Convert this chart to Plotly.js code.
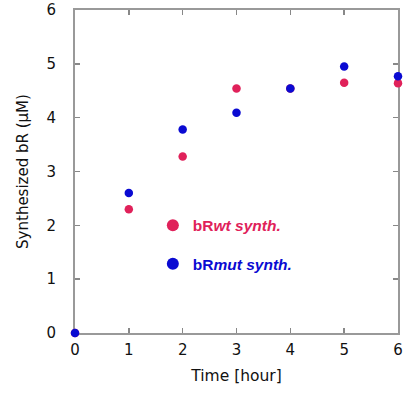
<!DOCTYPE html>
<html>
<head>
<meta charset="utf-8">
<script src="https://cdn.plot.ly/plotly-3.0.1.min.js"></script>
<style>html,body{margin:0;padding:0;background:#fff;}#chart{width:404px;height:394px;}</style>
</head>
<body>
<div id="chart"></div>
<script>
var timeHours = [0, 1, 2, 3, 4, 5, 6];
var wtSynth = [0, 2.30, 3.28, 4.54, 4.54, 4.65, 4.64];
var mutSynth = [0, 2.60, 3.78, 4.09, 4.54, 4.95, 4.77];
var tickVals = [0, 1, 2, 3, 4, 5, 6];
var tickText = ['0', '1', '2', '3', '4', '5', '6'];

var RED = '#e0215a';
var BLUE = '#0a0ad2';
var FONT = 'DejaVu Sans, Liberation Sans, Arial, sans-serif';

var traces = [
  {
    x: timeHours, y: wtSynth, type: 'scatter', mode: 'markers',
    name: '<b><span style="color:' + RED + '">bR<i>wt synth.</i></span></b>',
    marker: {color: RED, size: 8.5},
    cliponaxis: false, legend: 'legend'
  },
  {
    x: timeHours, y: mutSynth, type: 'scatter', mode: 'markers',
    name: '<b><span style="color:' + BLUE + '">bR<i>mut synth.</i></span></b>',
    marker: {color: BLUE, size: 8.5},
    cliponaxis: false, legend: 'legend2'
  }
];

var axisCommon = {
  range: [0, 6],
  tickvals: tickVals,
  ticktext: tickText,
  ticks: 'inside',
  ticklen: 5,
  tickwidth: 1.5,
  tickcolor: '#888',
  showline: true,
  linecolor: '#999',
  linewidth: 2,
  mirror: 'ticks',
  showgrid: false,
  zeroline: false,
  layer: 'below traces',
  fixedrange: true,
  tickfont: {family: FONT, size: 15, color: '#111'}
};

var legendCommon = {
  font: {family: 'Liberation Sans, Arial, sans-serif', size: 15.5},
  bgcolor: 'rgba(0,0,0,0)',
  borderwidth: 0,
  itemsizing: 'constant',
  xanchor: 'left',
  yanchor: 'middle'
};

var layout = {
  width: 404,
  height: 394,
  margin: {l: 75, r: 6, t: 10, b: 61},
  paper_bgcolor: '#fff',
  plot_bgcolor: '#fff',
  showlegend: true,
  xaxis: Object.assign({}, axisCommon, {
    ticklabelstandoff: 2,
    title: {text: 'Time [hour]', standoff: 12,
      font: {family: FONT, size: 15.5, color: '#111'}}
  }),
  yaxis: Object.assign({}, axisCommon, {
    ticklabelstandoff: 14,
    title: {text: 'Synthesized bR (\u03bcM)', standoff: 14,
      font: {family: FONT, size: 15, color: '#111'}}
  }),
  legend: Object.assign({}, legendCommon, {x: 0.241, y: 0.332}),
  legend2: Object.assign({}, legendCommon, {x: 0.241, y: 0.213})
};

Plotly.newPlot('chart', traces, layout, {displayModeBar: false, staticPlot: true});
</script>
</body>
</html>
